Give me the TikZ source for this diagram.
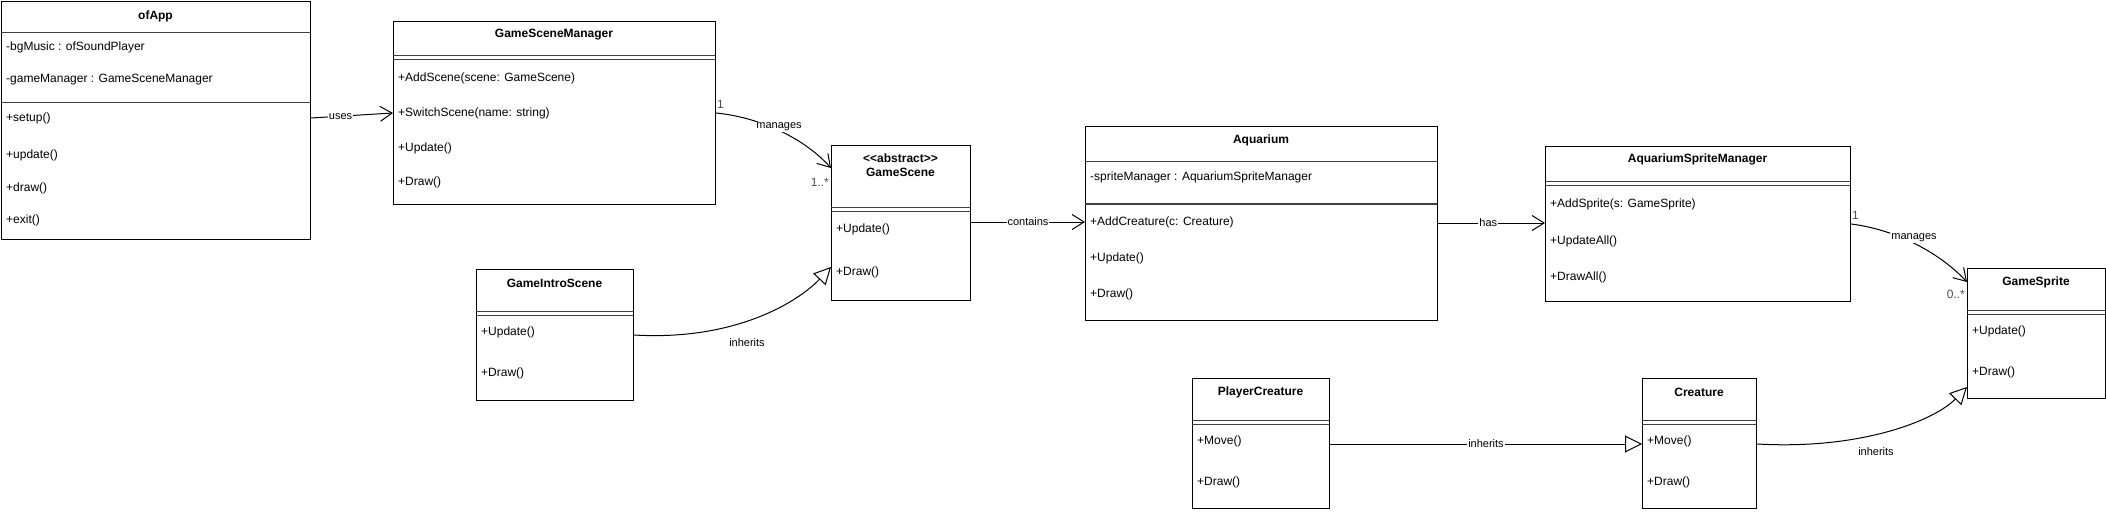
\documentclass[tikz,border=0pt]{standalone}
\usepackage{fontspec}
\setmainfont{Liberation Sans}
\usetikzlibrary{arrows.meta,calc}
\tikzset{
  clsbox/.style={draw=black, line width=1pt, inner sep=0pt, anchor=north west, fill=white},
  clstitle/.style={font=\fontsize{12}{14}\selectfont\bfseries, inner sep=0pt, anchor=center},
  member/.style={font=\fontsize{12}{14}\selectfont, inner sep=0pt, anchor=west},
  sepline/.style={draw=black!75, line width=1pt},
  lbl/.style={font=\fontsize{11}{13}\selectfont, inner sep=1pt, fill=white},
  lblfree/.style={font=\fontsize{11}{13}\selectfont, inner sep=0pt},
  mult/.style={font=\fontsize{12}{14}\selectfont, inner sep=0pt, text=black!70},
  assoc/.style={draw=black, line width=1pt, -{Straight Barb[length=12pt,width=15pt]}},
  inherit/.style={draw=black, line width=1pt, -{Triangle[open,length=17pt,width=17pt,fill=white]}},
}
\begin{document}
\begin{tikzpicture}[x=1pt,y=-1pt]
\useasboundingbox[fill=white] (0,0) rectangle (2106,513);

% ---------- ofApp
\node[clsbox, minimum width=309pt, minimum height=238pt] (ofApp) at (1,1) {};
\node[clstitle] (ofAppT) at (155.5,16) {ofApp};
\draw[sepline] (1,33) -- (310,33);
\node[member] (ofAppA1) at (6,47) {-bgMusic : ofSoundPlayer};
\node[member] (ofAppA2) at (6,80) {-gameManager : GameSceneManager};
\draw[sepline] (1,103) -- (310,103);
\node[member] (ofAppM1) at (6,118) {+setup()};
\node[member] (ofAppM2) at (6,155) {+update()};
\node[member] (ofAppM3) at (6,188) {+draw()};
\node[member] (ofAppM4) at (6,220) {+exit()};

% ---------- GameSceneManager
\node[clsbox, minimum width=322pt, minimum height=183pt] (GSM) at (393,21) {};
\node[clstitle] (GSMT) at (554,35) {GameSceneManager};
\draw[sepline] (393,56) -- (715,56) (393,60) -- (715,60);
\node[member] (GSMM1) at (398,78) {+AddScene(scene: GameScene)};
\node[member] (GSMM2) at (398,113) {+SwitchScene(name: string)};
\node[member] (GSMM3) at (398,148) {+Update()};
\node[member] (GSMM4) at (398,182) {+Draw()};

% ---------- GameScene
\node[clsbox, minimum width=139pt, minimum height=155pt] (GS) at (831,145) {};
\node[clstitle] (GST1) at (900.5,158) {<\kern0pt<abstract>\kern0pt>};
\node[clstitle] (GST2) at (900.5,172) {GameScene};
\draw[sepline] (831,208) -- (970,208) (831,212) -- (970,212);
\node[member] (GSM1) at (836,229) {+Update()};
\node[member] (GSM2) at (836,272) {+Draw()};

% ---------- GameIntroScene
\node[clsbox, minimum width=157pt, minimum height=131pt] (GIS) at (476,269) {};
\node[clstitle] (GIST) at (554.5,283) {GameIntroScene};
\draw[sepline] (476,311) -- (633,311) (476,315) -- (633,315);
\node[member] (GISM1) at (481,332) {+Update()};
\node[member] (GISM2) at (481,373) {+Draw()};

% ---------- Aquarium
\node[clsbox, minimum width=352pt, minimum height=194pt] (Aq) at (1085,126) {};
\node[clstitle] (AqT) at (1261,140) {Aquarium};
\draw[sepline] (1085,162) -- (1437,162);
\node[member] (AqA1) at (1090,177) {-spriteManager : AquariumSpriteManager};
\draw[sepline, line width=1.4pt] (1085,204) -- (1437,204);
\node[member] (AqM1) at (1090,222) {+AddCreature(c: Creature)};
\node[member] (AqM2) at (1090,258) {+Update()};
\node[member] (AqM3) at (1090,294) {+Draw()};

% ---------- AquariumSpriteManager
\node[clsbox, minimum width=305pt, minimum height=155pt] (ASM) at (1545,146) {};
\node[clstitle] (ASMT) at (1697.5,159) {AquariumSpriteManager};
\draw[sepline] (1545,182) -- (1850,182) (1545,186) -- (1850,186);
\node[member] (ASMM1) at (1550,204) {+AddSprite(s: GameSprite)};
\node[member] (ASMM2) at (1550,241) {+UpdateAll()};
\node[member] (ASMM3) at (1550,277) {+DrawAll()};

% ---------- GameSprite
\node[clsbox, minimum width=138pt, minimum height=130pt] (GSp) at (1967,268) {};
\node[clstitle] (GSpT) at (2036,282) {GameSprite};
\draw[sepline] (1967,310) -- (2105,310) (1967,314) -- (2105,314);
\node[member] (GSpM1) at (1972,331) {+Update()};
\node[member] (GSpM2) at (1972,372) {+Draw()};

% ---------- PlayerCreature
\node[clsbox, minimum width=137pt, minimum height=130pt] (PC) at (1192,378) {};
\node[clstitle] (PCT) at (1260.5,392) {PlayerCreature};
\draw[sepline] (1192,420) -- (1329,420) (1192,424) -- (1329,424);
\node[member] (PCM1) at (1197,441) {+Move()};
\node[member] (PCM2) at (1197,482) {+Draw()};

% ---------- Creature
\node[clsbox, minimum width=114pt, minimum height=130pt] (Cr) at (1642,378) {};
\node[clstitle] (CrT) at (1699,392) {Creature};
\draw[sepline] (1642,420) -- (1756,420) (1642,424) -- (1756,424);
\node[member] (CrM1) at (1647,441) {+Move()};
\node[member] (CrM2) at (1647,482) {+Draw()};

% ---------- connectors
% uses
\draw[assoc] ($(ofApp.north east)+(0,117)$) -- node[lbl, pos=0.36] (usesL) {uses} ($(GSM.north west)+(0,92)$);
% manages GSM -> GameScene
\draw[assoc] ($(GSM.north east)+(0,92)$) .. controls (757,117) and (802,136) .. ($(GS.north west)+(0,23)$);
\node[lbl] (manL1) at (779,127) {manages};
\node[mult, anchor=west] (m1a) at (717,104) {1};
\node[mult, anchor=east] (m1b) at (829,182) {1..*};
% inherits GameIntroScene -> GameScene
\draw[inherit] ($(GIS.north east)+(0,66)$) .. controls (735,341) and (798,302) .. ($(GS.north west)+(0,122)$);
\node[lblfree] (inhL1) at (747,343) {inherits};
% contains
\draw[assoc] ($(GS.north east)+(0,77)$) -- node[lbl, pos=0.5] (contL) {contains} ($(Aq.north west)+(0,96)$);
% has
\draw[assoc] ($(Aq.north east)+(0,97)$) -- node[lbl, pos=0.47] (hasL) {has} ($(ASM.north west)+(0,77)$);
% manages ASM -> GameSprite
\draw[assoc] ($(ASM.north east)+(0,78)$) .. controls (1892,229) and (1937,250) .. ($(GSp.north west)+(0,14)$);
\node[lbl] (manL2) at (1914,238) {manages};
\node[mult, anchor=west] (m2a) at (1852,215) {1};
\node[mult, anchor=east] (m2b) at (1965,294) {0..*};
% inherits PlayerCreature -> Creature
\draw[inherit] ($(PC.north east)+(0,66)$) -- node[lbl, pos=0.5] (inhL2) {inherits} ($(Cr.north west)+(0,66)$);
% inherits Creature -> GameSprite
\draw[inherit] ($(Cr.north east)+(0,66)$) .. controls (1862,450) and (1935,420) .. ($(GSp.north west)+(0,119)$);
\node[lblfree] (inhL3) at (1876,452) {inherits};
\end{tikzpicture}
\end{document}
